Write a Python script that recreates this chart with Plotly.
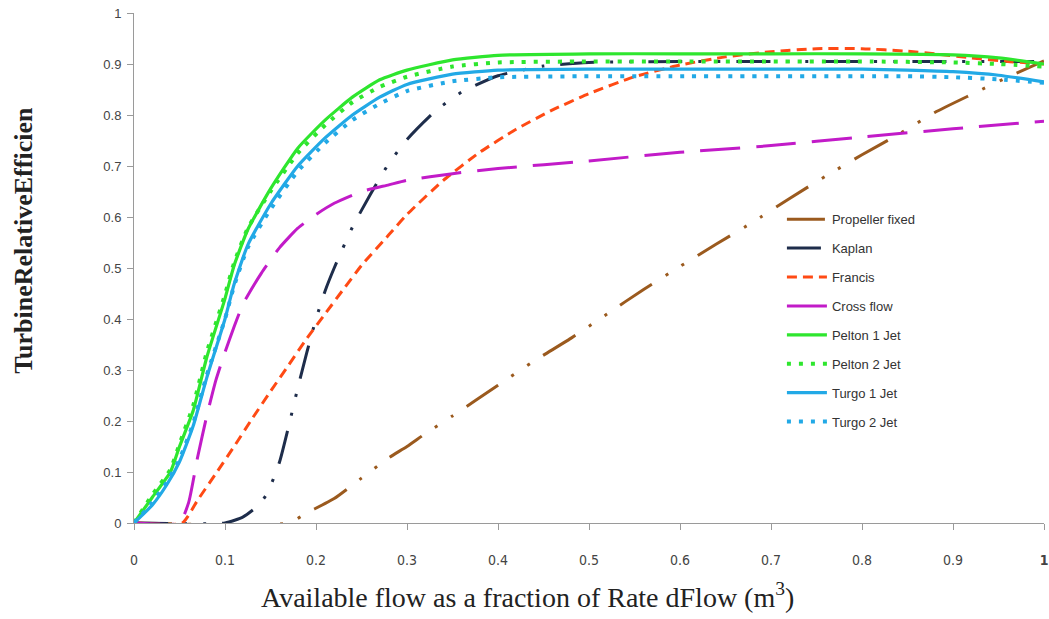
import plotly.graph_objects as go

# ---- data ----
x_ticks = [0, 0.1, 0.2, 0.3, 0.4, 0.5, 0.6, 0.7, 0.8, 0.9, 1.0]
x_tick_text = ["0", "0.1", "0.2", "0.3", "0.4", "0.5", "0.6", "0.7", "0.8", "0.9", "<b>1</b>"]
y_ticks = [0, 0.1, 0.2, 0.3, 0.4, 0.5, 0.6, 0.7, 0.8, 0.9, 1.0]
y_tick_text = ["0", "0.1", "0.2", "0.3", "0.4", "0.5", "0.6", "0.7", "0.8", "0.9", "1"]

propeller_x = [0, 0.17, 0.19, 0.22, 0.25, 0.28, 0.30, 0.32, 0.35, 0.40, 0.44, 0.48, 0.52, 0.56, 0.60, 0.64, 0.68, 0.72, 0.76, 0.80, 0.84, 0.88, 0.92, 0.96, 1.0]
propeller_y = [0, 0, 0.02, 0.048, 0.088, 0.128, 0.15, 0.175, 0.21, 0.27, 0.318, 0.362, 0.41, 0.458, 0.503, 0.547, 0.59, 0.636, 0.68, 0.722, 0.762, 0.805, 0.84, 0.874, 0.906]

kaplan_x = [0, 0.10, 0.12, 0.137, 0.147, 0.16, 0.17, 0.18, 0.19, 0.20, 0.21, 0.22, 0.24, 0.26, 0.28, 0.30, 0.33, 0.36, 0.40, 0.45, 0.50, 0.60, 0.70, 0.80, 0.90, 1.0]
kaplan_y = [0, 0, 0.012, 0.035, 0.06, 0.12, 0.19, 0.265, 0.335, 0.40, 0.455, 0.50, 0.58, 0.645, 0.705, 0.752, 0.806, 0.845, 0.877, 0.896, 0.903, 0.905, 0.905, 0.905, 0.905, 0.905]

francis_x = [0, 0.053, 0.07, 0.09, 0.11, 0.13, 0.15, 0.17, 0.19, 0.21, 0.23, 0.25, 0.28, 0.30, 0.34, 0.38, 0.42, 0.46, 0.50, 0.55, 0.60, 0.65, 0.70, 0.75, 0.80, 0.85, 0.88, 0.92, 0.96, 1.0]
francis_y = [0, 0, 0.045, 0.097, 0.15, 0.205, 0.258, 0.31, 0.362, 0.41, 0.458, 0.505, 0.565, 0.605, 0.672, 0.727, 0.772, 0.81, 0.842, 0.875, 0.898, 0.914, 0.924, 0.93, 0.93, 0.925, 0.92, 0.912, 0.905, 0.90]

crossflow_x = [0, 0.05, 0.06, 0.07, 0.08, 0.09, 0.10, 0.11, 0.12, 0.14, 0.16, 0.18, 0.20, 0.22, 0.25, 0.28, 0.30, 0.35, 0.40, 0.50, 0.60, 0.70, 0.80, 0.90, 1.0]
crossflow_y = [0, 0, 0.04, 0.13, 0.21, 0.28, 0.335, 0.385, 0.43, 0.49, 0.54, 0.578, 0.605, 0.627, 0.65, 0.663, 0.672, 0.685, 0.695, 0.71, 0.727, 0.74, 0.757, 0.773, 0.788]

pelton1_x = [0, 0.02, 0.04, 0.05, 0.065, 0.08, 0.10, 0.11, 0.125, 0.15, 0.18, 0.21, 0.24, 0.27, 0.30, 0.35, 0.40, 0.50, 0.60, 0.70, 0.80, 0.90, 0.95, 1.0]
pelton1_y = [0, 0.05, 0.10, 0.15, 0.22, 0.325, 0.44, 0.505, 0.575, 0.655, 0.735, 0.79, 0.835, 0.869, 0.888, 0.908, 0.917, 0.92, 0.92, 0.92, 0.92, 0.918, 0.912, 0.90]

pelton2_x = [0, 0.02, 0.04, 0.05, 0.065, 0.08, 0.10, 0.11, 0.125, 0.15, 0.18, 0.21, 0.24, 0.27, 0.30, 0.35, 0.40, 0.50, 0.60, 0.70, 0.80, 0.90, 0.95, 1.0]
pelton2_y = [0, 0.055, 0.105, 0.155, 0.23, 0.335, 0.448, 0.51, 0.578, 0.65, 0.725, 0.78, 0.825, 0.855, 0.875, 0.895, 0.903, 0.905, 0.905, 0.905, 0.905, 0.903, 0.90, 0.895]

turgo1_x = [0, 0.02, 0.036, 0.05, 0.065, 0.08, 0.10, 0.11, 0.125, 0.15, 0.18, 0.21, 0.24, 0.27, 0.30, 0.35, 0.40, 0.50, 0.60, 0.70, 0.80, 0.85, 0.90, 0.95, 1.0]
turgo1_y = [0, 0.035, 0.075, 0.12, 0.19, 0.285, 0.40, 0.468, 0.545, 0.625, 0.70, 0.755, 0.80, 0.835, 0.86, 0.88, 0.888, 0.89, 0.89, 0.89, 0.89, 0.888, 0.885, 0.878, 0.865]

turgo2_x = [0, 0.02, 0.036, 0.05, 0.065, 0.08, 0.10, 0.11, 0.125, 0.15, 0.18, 0.21, 0.24, 0.27, 0.30, 0.35, 0.40, 0.50, 0.60, 0.70, 0.80, 0.85, 0.90, 0.95, 1.0]
turgo2_y = [0, 0.04, 0.08, 0.125, 0.195, 0.29, 0.40, 0.465, 0.54, 0.615, 0.69, 0.745, 0.79, 0.822, 0.847, 0.866, 0.874, 0.876, 0.876, 0.876, 0.876, 0.876, 0.874, 0.87, 0.863]

series = [
    ("Propeller fixed", propeller_x, propeller_y, "#9B5A1E", "38px,16px,3px,16px,3px,16px", 3),
    ("Kaplan", kaplan_x, kaplan_y, "#1E2D4B", "34px,16px,3px,16px,3px,16px", 3),
    ("Francis", francis_x, francis_y, "#FF4A14", "10px,6px", 3),
    ("Cross flow", crossflow_x, crossflow_y, "#C21BC8", "40px,16px", 3),
    ("Pelton 1 Jet", pelton1_x, pelton1_y, "#2EE62E", "solid", 3.2),
    ("Pelton 2 Jet", pelton2_x, pelton2_y, "#2EE62E", "4px,8px", 4),
    ("Turgo 1 Jet", turgo1_x, turgo1_y, "#22A9E6", "solid", 3.2),
    ("Turgo 2 Jet", turgo2_x, turgo2_y, "#22A9E6", "4px,8px", 4),
]

fig = go.Figure()
for i, (name, xs, ys, color, dash, width) in enumerate(series):
    fig.add_trace(go.Scatter(
        x=xs, y=ys, mode="lines", name=name, legendgroup=f"g{i}",
        line=dict(color=color, dash=dash, width=width, shape="spline", smoothing=0.5),
    ))

axis_font = dict(family="Liberation Sans, Arial, sans-serif", size=13, color="#444444")

fig.update_layout(
    width=1049, height=619,
    margin=dict(l=134, r=5, t=13, b=96, autoexpand=False),
    paper_bgcolor="white", plot_bgcolor="white",
    showlegend=True,
    legend=dict(
        x=0.712, y=0.625, xanchor="left", yanchor="top",
        font=dict(family="Liberation Sans, Arial, sans-serif", size=13, color="#333333"),
        bgcolor="rgba(255,255,255,0)", tracegroupgap=9,
        itemwidth=40,
    ),
    xaxis=dict(
        range=[0, 1], tickvals=x_ticks, ticktext=x_tick_text,
        showgrid=False, zeroline=False, showline=True, linecolor="#9a9a9a", linewidth=1,
        ticks="outside", ticklen=6, tickcolor="#9a9a9a",
        tickfont=dict(family="Liberation Sans Narrow, DejaVu Sans Condensed, Liberation Sans, sans-serif", size=14, color="#444444"),
        ticklabelstandoff=18, ticklabeloverflow="allow",
    ),
    yaxis=dict(
        range=[0, 1], tickvals=y_ticks, ticktext=y_tick_text,
        showgrid=False, zeroline=False, showline=True, linecolor="#9a9a9a", linewidth=1,
        ticks="outside", ticklen=6, tickcolor="#9a9a9a",
        tickfont=axis_font, ticklabelstandoff=3, ticklabeloverflow="allow",
    ),
    annotations=[
        dict(text="Available flow as a fraction of Rate dFlow (m<sup>3</sup>)",
             xref="paper", yref="paper", x=0.432, y=-0.143, xanchor="center", yanchor="middle",
             showarrow=False, font=dict(family="Liberation Serif, Times New Roman, serif", size=28, color="#222222")),
        dict(text="<b>TurbineRelativeEfficien</b>",
             xref="paper", yref="paper", x=-0.121, y=0.555, xanchor="center", yanchor="middle",
             textangle=-90, showarrow=False,
             font=dict(family="Liberation Serif, Times New Roman, serif", size=26, color="#222222")),
    ],
)

# remove the default page margin so the figure fills the window exactly
fig.write_html("out.html", config={"displayModeBar": False},
               post_script="document.body.style.margin='0';")
